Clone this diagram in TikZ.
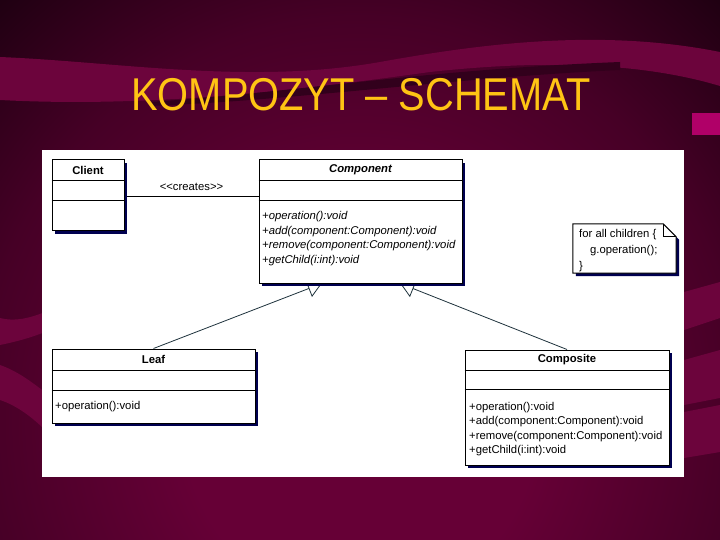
\documentclass[tikz,border=0pt]{standalone}
\usepackage{fontspec}
\usepackage{graphicx}
\setmainfont{Liberation Sans}
\usetikzlibrary{arrows.meta,calc,shadows}
\definecolor{bgmid}{RGB}{102,0,54}
\definecolor{bgmed}{RGB}{70,0,38}
\definecolor{bgdark}{RGB}{30,0,17}
\definecolor{swoosh}{RGB}{108,4,60}
\definecolor{stripe}{RGB}{50,0,28}
\definecolor{pinksq}{RGB}{176,0,104}
\definecolor{titlecol}{RGB}{255,196,20}
\definecolor{shadowcol}{RGB}{0,0,80}
\definecolor{edgecol}{RGB}{30,50,60}
\pgfdeclareradialshading{bgshade}{\pgfpoint{0bp}{0bp}}{color(0bp)=(bgmid); color(11bp)=(bgmid); color(24bp)=(bgmed); color(34bp)=(bgdark); color(50bp)=(bgdark)}
\pgfdeclarelayer{bg}
\pgfdeclarelayer{edges}
\pgfsetlayers{bg,edges,main}
\tikzset{
  classbox/.style={draw=black, line width=1pt, fill=white, inner sep=0pt,
    drop shadow={shadow xshift=3pt, shadow yshift=-3pt, fill=shadowcol, opacity=1}},
  umltext/.style={font=\fontsize{11.3}{13}\selectfont, inner sep=0pt},
  clsname/.style={umltext, font=\fontsize{11.3}{13}\selectfont\bfseries},
  opline/.style={umltext, anchor=base west},
  itop/.style={opline, font=\fontsize{11.3}{13}\selectfont\itshape},
  gen/.style={draw=edgecol, line width=0.8pt, -{Triangle[open, length=14pt, width=18pt, fill=white]}},
  assoc/.style={draw=black, line width=1pt}
}
\begin{document}
\begin{tikzpicture}[x=1pt,y=-1pt]
\useasboundingbox (0,0) rectangle (720,540);
% ---------------- background ----------------
\begin{pgfonlayer}{bg}
\begin{scope}
\clip (0,0) rectangle (720,540);
\path[shading=bgshade] (-40,0) rectangle (760,840);
% top swoosh
\fill[swoosh] (0,57) .. controls (120,62) and (250,85) .. (380,62) .. controls (480,44) and (600,28) .. (720,52)
  -- (720,86) .. controls (640,62) and (540,60) .. (430,72) .. controls (300,90) and (150,108) .. (0,100) -- cycle;
\fill[stripe] (150,102) .. controls (300,92) and (420,70) .. (620,62) -- (620,70) .. controls (450,78) and (300,100) .. (150,106) -- cycle;
% magenta square
\fill[pinksq] (692,113) rectangle (720,135);
% left bands
\fill[swoosh] (0,318) .. controls (15,322) and (30,318) .. (45,312) -- (45,332) .. controls (30,338) and (15,342) .. (0,345) -- cycle;
\fill[swoosh] (0,365) .. controls (20,372) and (35,385) .. (45,392) -- (45,430) .. controls (30,415) and (15,405) .. (0,400) -- cycle;
% right bands
\fill[swoosh] (684,292) -- (720,282) -- (720,318) -- (684,330) -- cycle;
\fill[swoosh] (684,360) -- (720,350) -- (720,398) -- (684,405) -- cycle;
\fill[swoosh] (684,412) -- (720,405) -- (720,452) -- (684,458) -- cycle;
% white panel
\fill[white] (42,150) rectangle (684,477);
\end{scope}
\end{pgfonlayer}
% ---------------- title ----------------
\node[font=\fontsize{46}{50}\selectfont, text=titlecol, anchor=base, inner sep=0pt] (title) at (361,111)
  {\scalebox{0.865}[1]{KOMPOZYT – SCHEMAT}};
% ---------------- classes ----------------
\node[classbox, minimum width=72pt, minimum height=71pt] (client) at (88,195.5) {};
\draw[line width=1pt] ($(client.north west)+(0,21)$) -- ($(client.north east)+(0,21)$);
\draw[line width=1pt] ($(client.north west)+(0,41)$) -- ($(client.north east)+(0,41)$);
\node[clsname] (clientname) at ($(client.north)+(0,10.5)$) {Client};

\node[classbox, minimum width=203pt, minimum height=123pt] (comp) at (360.5,221.5) {};
\draw[line width=1pt] ($(comp.north west)+(0,21)$) -- ($(comp.north east)+(0,21)$);
\draw[line width=1pt] ($(comp.north west)+(0,41)$) -- ($(comp.north east)+(0,41)$);
\node[clsname, font=\fontsize{11.3}{13}\selectfont\bfseries\itshape] (compname) at ($(comp.north)+(0,10.5)$) {Component};
\node[itop] (cop1) at (262,219.5) {+operation():void};
\node[itop] (cop2) at (262,234) {+add(component:Component):void};
\node[itop] (cop3) at (262,248.5) {+remove(component:Component):void};
\node[itop] (cop4) at (262,263) {+getChild(i:int):void};

\node[classbox, minimum width=203pt, minimum height=74pt] (leaf) at (153.5,386) {};
\draw[line width=1pt] ($(leaf.north west)+(0,22)$) -- ($(leaf.north east)+(0,22)$);
\draw[line width=1pt] ($(leaf.north west)+(0,42)$) -- ($(leaf.north east)+(0,42)$);
\node[clsname] (leafname) at ($(leaf.north)+(0,11)$) {Leaf};
\node[opline] (lop1) at (55,409) {+operation():void};

\node[classbox, minimum width=204pt, minimum height=115pt] (compo) at (567,407.5) {};
\draw[line width=1pt] ($(compo.north west)+(0,21)$) -- ($(compo.north east)+(0,21)$);
\draw[line width=1pt] ($(compo.north west)+(0,40)$) -- ($(compo.north east)+(0,40)$);
\node[clsname] (componame) at ($(compo.north)+(0,10.5)$) {Composite};
\node[opline] (pop1) at (469,410) {+operation():void};
\node[opline] (pop2) at (469,424.5) {+add(component:Component):void};
\node[opline] (pop3) at (469,439) {+remove(component:Component):void};
\node[opline] (pop4) at (469,453.5) {+getChild(i:int):void};

% ---------------- note ----------------
\node[minimum width=103pt, minimum height=49pt, inner sep=0pt] (note) at (624.5,248.5) {};
\fill[shadowcol] ($(note.north west)+(3,3)$) -- ($(note.north east)+(-10,3)$) -- ($(note.north east)+(3,16)$)
  -- ($(note.south east)+(3,3)$) -- ($(note.south west)+(3,3)$) -- cycle;
\draw[line width=1pt, fill=white] (note.north west) -- ($(note.north east)+(-13,0)$) -- ($(note.north east)+(0,13)$)
  -- (note.south east) -- (note.south west) -- cycle;
\draw[line width=1pt] ($(note.north east)+(-13,0)$) -- ($(note.north east)+(-13,13)$) -- ($(note.north east)+(0,13)$);
\node[opline] (n1) at (579,237) {for all children \{};
\node[opline] (n2) at (590,253) {g.operation();};
\node[opline] (n3) at (579,269) {\}};

% ---------------- connectors ----------------
\begin{pgfonlayer}{edges}
\draw[assoc] ($(client.north east)!0.52!(client.south east)$) coordinate (a1) -- (a1 -| comp.west) coordinate (a2);
\draw[gen] (leaf.north) -- ($(comp.south west)!0.31!(comp.south east)$);
\draw[gen] (compo.north) -- ($(comp.south west)!0.695!(comp.south east)$);
\end{pgfonlayer}
\node[umltext, anchor=base] (creates) at ($(a1)!0.5!(a2)+(0,-6)$) {<\kern0pt<creates>\kern0pt>};
\end{tikzpicture}
\end{document}
